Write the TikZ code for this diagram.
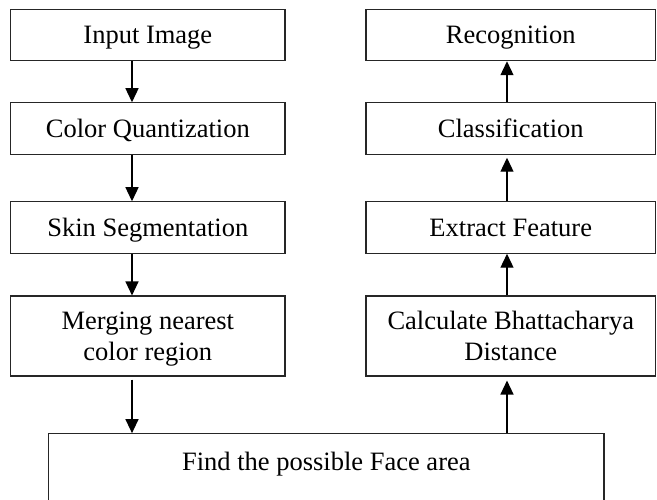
\documentclass[tikz,border=0pt]{standalone}
\usepackage{fontspec}
\setmainfont{Liberation Serif}
\usetikzlibrary{arrows.meta}
\begin{document}
\begin{tikzpicture}[x=1pt,y=-1pt,
  box/.style={draw=black!85, line width=1.1pt, rectangle, inner sep=0pt, align=center,
    text height=17.5pt, text depth=0pt,
    font=\fontsize{26.5}{30.5}\selectfont},
  twoline/.style={text height=48pt, text depth=0pt},
  lbox/.style={box, minimum width=274.3pt},
  rbox/.style={box, minimum width=289.5pt},
  arr/.style={line width=1.3pt, -{Triangle[length=14pt,width=13pt]}}]
\useasboundingbox (0,0) rectangle (657,500);
% left column
\node[lbox, minimum height=51.4pt] (in)  at (147.85,35)   {Input Image};
\node[lbox, minimum height=51.4pt] (cq)  at (147.85,128.5) {Color Quantization};
\node[lbox, minimum height=51.4pt] (ss)  at (147.85,227.5) {Skin Segmentation};
\node[lbox, twoline, minimum height=80pt] (mg) at (147.85,336) {Merging nearest\\color region};
% right column
\node[rbox, minimum height=51.4pt] (rec) at (510.75,35)    {Recognition};
\node[rbox, minimum height=51.4pt] (cls) at (510.75,128.5) {Classification};
\node[rbox, minimum height=51.4pt] (ef)  at (510.75,227.5) {Extract Feature};
\node[rbox, twoline, minimum height=80pt] (bd) at (510.75,336) {Calculate Bhattacharya\\Distance};
% bottom box
\node[box, minimum width=555.3pt, minimum height=71.3pt] (fa) at (326.35,469.35) {};
\node[anchor=base, font=\fontsize{26.5}{30.5}\selectfont] (fat) at (326.35,470) {Find the possible Face area};
% arrow columns
\coordinate (la) at (132,0);
\coordinate (ra) at (507,0);
\draw[arr] (in.south -| la) -- (cq.north -| la);
\draw[arr] (cq.south -| la) -- (ss.north -| la);
\draw[arr] (ss.south -| la) -- (mg.north -| la);
\draw[arr, shorten <=3pt] (mg.south -| la) -- (fa.north -| la);
\draw[arr, shorten >=4pt] (fa.north -| ra) -- (bd.south -| ra);
\draw[arr] (bd.north -| ra) -- (ef.south -| ra);
\draw[arr, shorten >=3pt] (ef.north -| ra) -- (cls.south -| ra);
\draw[arr] (cls.north -| ra) -- (rec.south -| ra);
\end{tikzpicture}
\end{document}
